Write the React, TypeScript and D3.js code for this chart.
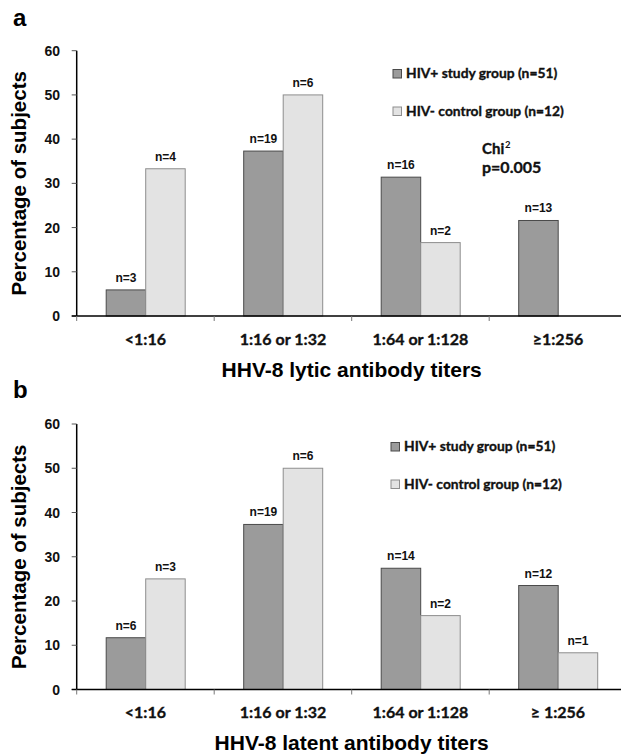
import React from "react";
import * as d3 from "d3";

const categoriesA = ["<1:16", "1:16 or 1:32", "1:64 or 1:128", "≥1:256"];
const categoriesB = ["<1:16", "1:16 or 1:32", "1:64 or 1:128", "≥ 1:256"];
const seriesNames = ["HIV+ study group (n=51)", "HIV- control group (n=12)"];

const lyticHivPos = [5.9, 37.3, 31.4, 21.6];
const lyticHivNeg = [33.3, 50, 16.6, 0];
const lyticNPos = ["n=3", "n=19", "n=16", "n=13"];
const lyticNNeg = ["n=4", "n=6", "n=2", ""];

const latentHivPos = [11.7, 37.3, 27.4, 23.5];
const latentHivNeg = [25, 50, 16.7, 8.3];
const latentNPos = ["n=6", "n=19", "n=14", "n=12"];
const latentNNeg = ["n=3", "n=6", "n=2", "n=1"];

const yTicks = [0, 10, 20, 30, 40, 50, 60];

const ARIAL = "'Liberation Sans', Arial, sans-serif";
const CAL = "Lato, 'Open Sans', sans-serif";
const DARK_FILL = "#9b9b9b";
const DARK_STROKE = "#4a4a4a";
const LIGHT_FILL = "#e3e3e3";
const LIGHT_STROKE = "#8e8e8e";

type PanelProps = {
  letter: string;
  letterY: number;
  top: number;
  bottom: number;
  categories: string[];
  pos: number[];
  neg: number[];
  nPos: string[];
  nNeg: string[];
  title: string;
  legendX: number;
  legendY: number;
  showChi: boolean;
};

const calStyle = { stroke: "#111", strokeWidth: 0.35 };

function Panel(p: PanelProps) {
  const x0 = 76.7;
  const step = 137.5;
  const x = d3.scaleBand<string>().domain(p.categories).range([x0, x0 + step * 4]).padding(0);
  const sub = d3.scaleBand<string>().domain(["pos", "neg"]).range([29.5, 108.5]).padding(0);
  const y = d3.scaleLinear().domain([0, 60]).range([p.bottom, p.top]);
  const series = [
    { key: "pos", vals: p.pos, labels: p.nPos, fill: DARK_FILL, stroke: DARK_STROKE },
    { key: "neg", vals: p.neg, labels: p.nNeg, fill: LIGHT_FILL, stroke: LIGHT_STROKE },
  ];
  const midY = (p.top + p.bottom) / 2;
  return (
    <g>
      <text x={13} y={p.letterY} fontFamily={ARIAL} fontWeight="bold" fontSize={24} fill="#000">
        {p.letter}
      </text>
      {series.map((s) =>
        p.categories.map((c, i) =>
          s.vals[i] > 0 ? (
            <rect
              key={s.key + c}
              x={(x(c) as number) + (sub(s.key) as number)}
              y={y(s.vals[i])}
              width={sub.bandwidth()}
              height={y(0) - y(s.vals[i])}
              fill={s.fill}
              stroke={s.stroke}
              strokeWidth={1}
            />
          ) : null
        )
      )}
      {series.map((s) =>
        p.categories.map((c, i) =>
          s.labels[i] ? (
            <text
              key={"l" + s.key + c}
              x={(x(c) as number) + (sub(s.key) as number) + sub.bandwidth() / 2}
              y={y(s.vals[i]) - 8}
              textAnchor="middle"
              fontFamily={ARIAL}
              fontWeight="bold"
              fontSize={12}
              fill="#111"
            >
              {s.labels[i]}
            </text>
          ) : null
        )
      )}
      <line x1={x0} x2={x0} y1={y(60)} y2={y(0)} stroke="#000" strokeWidth={1.5} />
      {yTicks.map((t) => (
        <g key={"yt" + t}>
          <line x1={x0 - 5} x2={x0} y1={y(t)} y2={y(t)} stroke="#555" strokeWidth={1} />
          <text
            x={60}
            y={y(t) + 5}
            textAnchor="end"
            fontFamily={ARIAL}
            fontWeight="bold"
            fontSize={14}
            fill="#111"
          >
            {t}
          </text>
        </g>
      ))}
      <line x1={x0 - 5} x2={621} y1={y(0)} y2={y(0)} stroke="#000" strokeWidth={1.5} />
      {[0, 1, 2, 3].map((i) => (
        <line
          key={"xt" + i}
          x1={x0 + step * i}
          x2={x0 + step * i}
          y1={y(0)}
          y2={y(0) + 5}
          stroke="#777"
          strokeWidth={1}
        />
      ))}
      {p.categories.map((c) => (
        <text
          key={"xl" + c}
          x={(x(c) as number) + x.bandwidth() / 2}
          y={y(0) + 28.5}
          textAnchor="middle"
          fontFamily={CAL}
          fontWeight="bold"
          fontSize={16}
          fill="#111"
          {...calStyle}
        >
          {c}
        </text>
      ))}
      <text
        x={x0 + step * 2}
        y={y(0) + 60.5}
        textAnchor="middle"
        fontFamily={ARIAL}
        fontWeight="bold"
        fontSize={21}
        fill="#000"
      >
        {p.title}
      </text>
      <text
        transform={`translate(25.5,${midY}) rotate(-90)`}
        textAnchor="middle"
        fontFamily={ARIAL}
        fontWeight="bold"
        fontSize={20.5}
        fill="#000"
      >
        Percentage of subjects
      </text>
      {seriesNames.map((n, i) => (
        <g key={"lg" + i} transform={`translate(${p.legendX},${p.legendY + i * 37.5})`}>
          <rect
            x={0}
            y={-8.5}
            width={8.5}
            height={8.5}
            fill={i === 0 ? DARK_FILL : LIGHT_FILL}
            stroke={i === 0 ? DARK_STROKE : LIGHT_STROKE}
            strokeWidth={1}
          />
          <text x={13} y={0} fontFamily={CAL} fontWeight="bold" fontSize={13.8} fill="#111" {...calStyle}>
            {n}
          </text>
        </g>
      ))}
      {p.showChi && (
        <g>
          <text x={482} y={154} fontFamily={CAL} fontWeight="bold" fontSize={15} fill="#111" {...calStyle}>
            Chi
          </text>
          <text x={505} y={148} fontFamily={CAL} fontWeight="bold" fontSize={9.5} fill="#111">
            2
          </text>
          <text x={482} y={172.5} fontFamily={CAL} fontWeight="bold" fontSize={16} fill="#111" {...calStyle}>
            p=0.005
          </text>
        </g>
      )}
    </g>
  );
}

export default function App() {
  return (
    <svg
      width={621}
      height={756}
      style={{ position: "absolute", left: 0, top: 0, background: "#fff" }}
    >
      <rect x={0} y={0} width={621} height={756} fill="#fff" />
      <Panel
        letter="a"
        letterY={26}
        top={50.7}
        bottom={316}
        categories={categoriesA}
        pos={lyticHivPos}
        neg={lyticHivNeg}
        nPos={lyticNPos}
        nNeg={lyticNNeg}
        title="HHV-8 lytic antibody titers"
        legendX={393}
        legendY={78}
        showChi={true}
      />
      <Panel
        letter="b"
        letterY={398}
        top={424}
        bottom={689.5}
        categories={categoriesB}
        pos={latentHivPos}
        neg={latentHivNeg}
        nPos={latentNPos}
        nNeg={latentNNeg}
        title="HHV-8 latent antibody titers"
        legendX={391}
        legendY={451}
        showChi={false}
      />
    </svg>
  );
}
